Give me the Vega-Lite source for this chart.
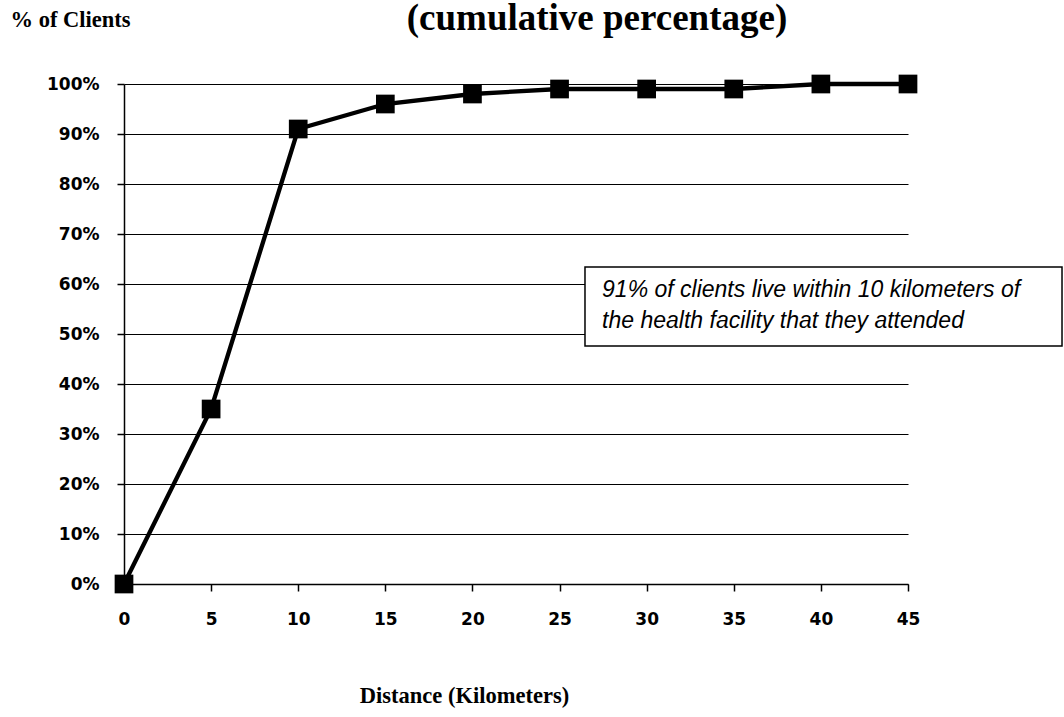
{
  "$schema": "https://vega.github.io/schema/vega-lite/v6.json",
  "autosize": "none",
  "width": 784,
  "height": 500,
  "padding": {"left": 124, "top": 84, "right": 156, "bottom": 133},
  "background": "white",
  "title": {
    "text": "(cumulative percentage)",
    "font": "Liberation Serif",
    "fontSize": 37,
    "fontWeight": "bold",
    "color": "black",
    "anchor": "middle",
    "frame": "group",
    "baseline": "alphabetic",
    "dx": 81,
    "dy": 59,
    "offset": 0
  },
  "config": {
    "view": {"stroke": null},
    "axis": {
      "domainColor": "black",
      "domainWidth": 1.5,
      "tickColor": "black",
      "tickWidth": 1.5,
      "tickSize": 7,
      "labelFont": "DejaVu Sans",
      "labelFontWeight": "bold",
      "labelFontSize": 17,
      "labelColor": "black",
      "titleFont": "Liberation Serif",
      "titleFontWeight": "bold",
      "titleFontSize": 22.5,
      "titleColor": "black"
    }
  },
  "datasets": {
    "cumulative": [
      {"distance": 0, "pct": 0},
      {"distance": 5, "pct": 35},
      {"distance": 10, "pct": 91},
      {"distance": 15, "pct": 96},
      {"distance": 20, "pct": 98},
      {"distance": 25, "pct": 99},
      {"distance": 30, "pct": 99},
      {"distance": 35, "pct": 99},
      {"distance": 40, "pct": 100},
      {"distance": 45, "pct": 100}
    ],
    "note": [
      {"x0": 26.46, "x1": 53.84, "y0": 63.4, "y1": 47.6, "tx": 27.44, "ty": 57.4,
       "label": "91% of clients live within 10 kilometers of\nthe health facility that they attended"}
    ]
  },
  "layer": [
    {
      "data": {"name": "cumulative"},
      "mark": {"type": "line", "color": "black", "strokeWidth": 4.3},
      "encoding": {
        "x": {
          "field": "distance",
          "type": "quantitative",
          "scale": {"domain": [0, 45], "nice": false, "zero": false},
          "axis": {
            "values": [0, 5, 10, 15, 20, 25, 30, 35, 40, 45],
            "grid": false,
            "labelFlush": false,
            "labelPadding": 20,
            "labelBaseline": "top",
            "title": "Distance (Kilometers)",
            "titleAlign": "center",
            "titleBaseline": "alphabetic",
            "titleX": 340,
            "titleY": 118
          }
        },
        "y": {
          "field": "pct",
          "type": "quantitative",
          "scale": {"domain": [0, 100], "nice": false},
          "axis": {
            "values": [0, 10, 20, 30, 40, 50, 60, 70, 80, 90, 100],
            "grid": true,
            "gridColor": "black",
            "gridOpacity": 1,
            "gridWidth": 1.2,
            "labelExpr": "datum.value + '%'",
            "labelPadding": 18,
            "title": "% of Clients",
            "titleAngle": 0,
            "titleAlign": "left",
            "titleBaseline": "alphabetic",
            "titleX": -114,
            "titleY": -58
          }
        }
      }
    },
    {
      "data": {"name": "cumulative"},
      "mark": {"type": "point", "shape": "square", "size": 350, "filled": true, "color": "black", "opacity": 1},
      "encoding": {
        "x": {"field": "distance", "type": "quantitative"},
        "y": {"field": "pct", "type": "quantitative"}
      }
    },
    {
      "data": {"name": "note"},
      "mark": {"type": "rect", "fill": "white", "stroke": "black", "strokeWidth": 1.5, "clip": false},
      "encoding": {
        "x": {"field": "x0", "type": "quantitative"},
        "x2": {"field": "x1"},
        "y": {"field": "y0", "type": "quantitative"},
        "y2": {"field": "y1"}
      }
    },
    {
      "data": {"name": "note"},
      "mark": {
        "type": "text",
        "align": "left",
        "baseline": "alphabetic",
        "font": "Liberation Sans",
        "fontStyle": "italic",
        "fontSize": 23,
        "lineHeight": 31,
        "lineBreak": "\n",
        "color": "black"
      },
      "encoding": {
        "x": {"field": "tx", "type": "quantitative"},
        "y": {"field": "ty", "type": "quantitative"},
        "text": {"field": "label"}
      }
    }
  ]
}
